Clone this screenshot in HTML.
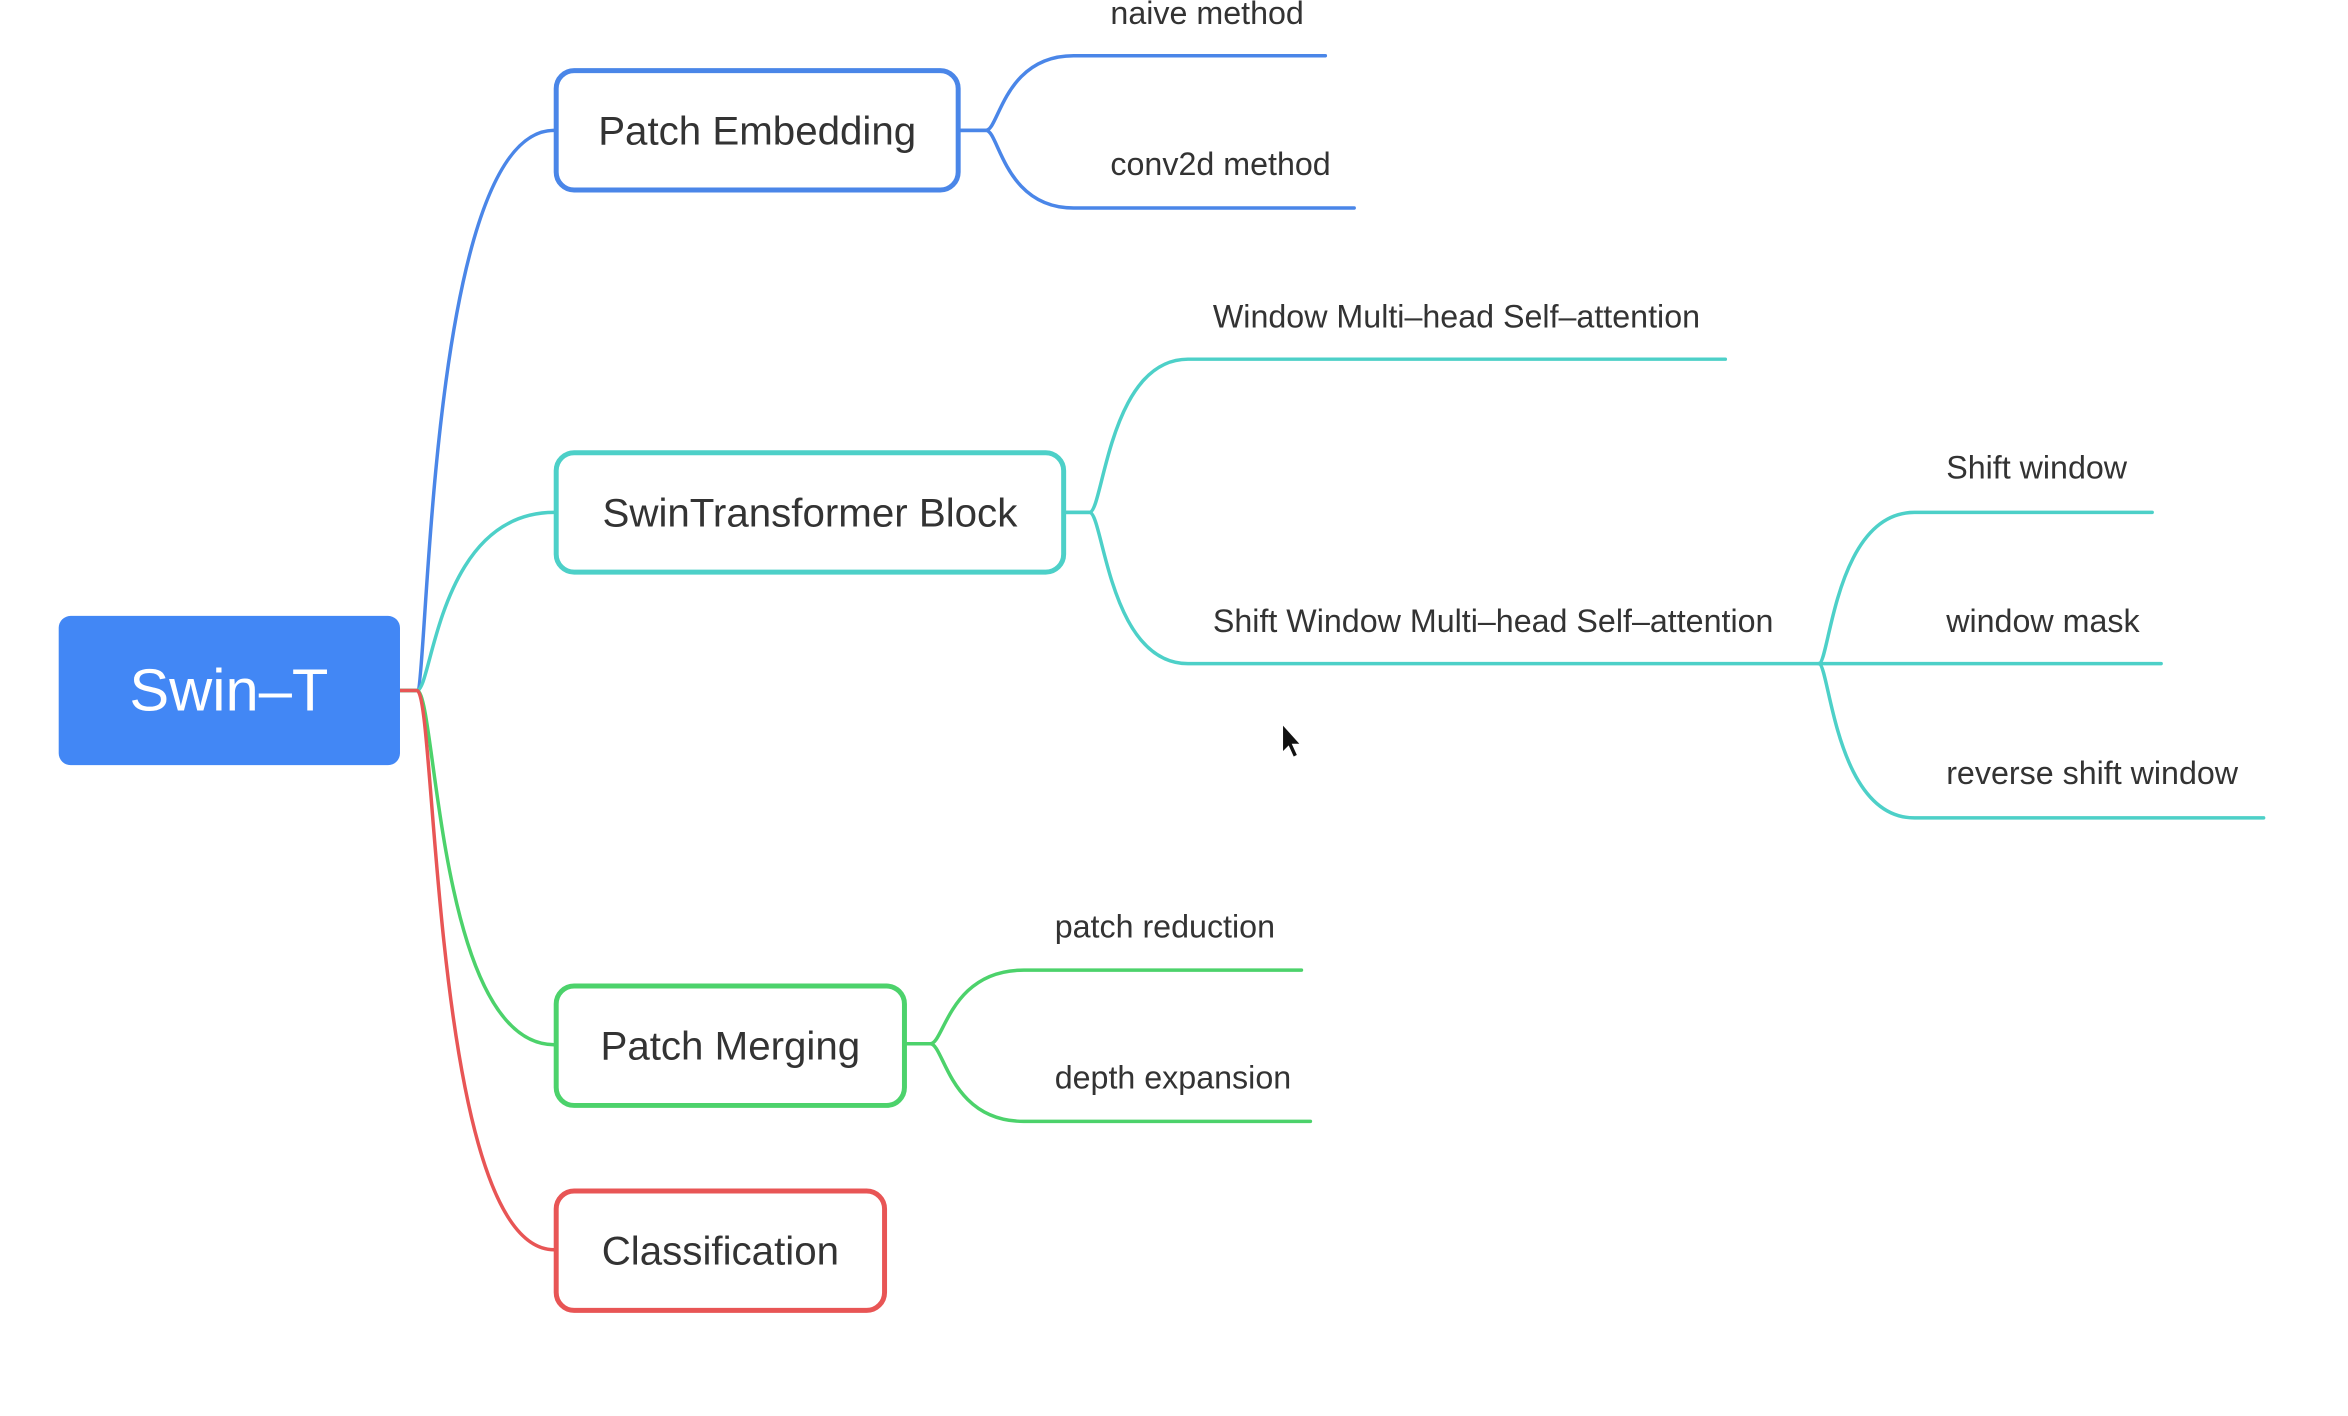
<!DOCTYPE html>
<html><head><meta charset="utf-8"><style>
html,body{margin:0;padding:0;background:#fff;}
svg{display:block;}
text{font-family:"Liberation Sans",Arial,sans-serif;}
</style></head><body>
<svg width="2348" height="1416" viewBox="0 0 2348 1416" xmlns="http://www.w3.org/2000/svg">
<g transform="translate(-1,0) scale(0.995)">
<g fill="none" stroke-width="3.5" stroke-linecap="round">
<path d="M403 694 L420 694 C432 694 430 130 558 131" stroke="#4a86e8"/>
<path d="M403 694 L420 694 C436 694 440 515 558 515" stroke="#4dd0c8"/>
<path d="M403 694 L420 694 C440 694 440 1050 558 1050" stroke="#4cd26b"/>
<path d="M403 694 L420 694 C440 694 435 1256 558 1256" stroke="#e85555"/>
<path d="M966 131 L992 131 C1005 131 1010 56 1080 56 L1333 56" stroke="#4a86e8"/>
<path d="M966 131 L992 131 C1005 131 1010 209 1080 209 L1362 209" stroke="#4a86e8"/>
<path d="M1072 515 L1096 515 C1110 515 1115 361 1195 361 L1735 361" stroke="#4dd0c8"/>
<path d="M1072 515 L1096 515 C1110 515 1115 667 1195 667 L1829 667" stroke="#4dd0c8"/>
<path d="M1829 667 C1840 667 1845 515 1925 515 L2164 515" stroke="#4dd0c8"/>
<path d="M1829 667 L2173 667" stroke="#4dd0c8"/>
<path d="M1829 667 C1840 667 1845 822 1925 822 L2276 822" stroke="#4dd0c8"/>
<path d="M912 1049 L936 1049 C950 1049 955 975 1030 975 L1309 975" stroke="#4cd26b"/>
<path d="M912 1049 L936 1049 C950 1049 955 1127 1030 1127 L1318 1127" stroke="#4cd26b"/>
</g>
<rect x="60" y="619" width="343" height="150" rx="12" fill="#4287f5"/>
<text x="231" y="714" font-size="60" fill="#fff" text-anchor="middle">Swin–T</text>
<rect x="560" y="71" width="404" height="120" rx="18" fill="#fff" stroke="#4a86e8" stroke-width="5"/>
<text x="762" y="145" font-size="40.5" fill="#333" text-anchor="middle">Patch Embedding</text>
<rect x="560" y="455" width="510" height="120" rx="18" fill="#fff" stroke="#4dd0c8" stroke-width="5"/>
<text x="815" y="529" font-size="40.5" fill="#333" text-anchor="middle">SwinTransformer Block</text>
<rect x="560" y="991" width="350" height="120" rx="18" fill="#fff" stroke="#4cd26b" stroke-width="5"/>
<text x="735" y="1065" font-size="40.5" fill="#333" text-anchor="middle">Patch Merging</text>
<rect x="560" y="1197" width="330" height="120" rx="18" fill="#fff" stroke="#e85555" stroke-width="5"/>
<text x="725" y="1271" font-size="40.5" fill="#333" text-anchor="middle">Classification</text>
<g font-size="32.4" fill="#333">
<text x="1117" y="24">naive method</text>
<text x="1117" y="176">conv2d method</text>
<text x="1220" y="329">Window Multi–head Self–attention</text>
<text x="1220" y="635">Shift Window Multi–head Self–attention</text>
<text x="1957" y="481">Shift window</text>
<text x="1957" y="635">window mask</text>
<text x="1957" y="788">reverse shift window</text>
<text x="1061" y="942">patch reduction</text>
<text x="1061" y="1094">depth expansion</text>
</g>
<path d="M1290 728 L1290 756 L1296 750 L1301 761 L1305 759 L1300 748 L1308 748 Z" fill="#111" stroke="#fff" stroke-width="1"/>
</g>
</svg>
</body></html>
